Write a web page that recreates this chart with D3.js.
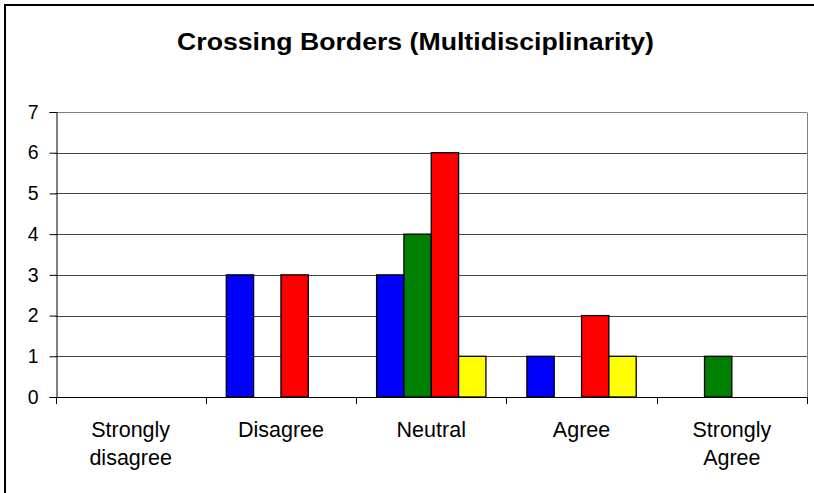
<!DOCTYPE html>
<html>
<head>
<meta charset="utf-8">
<script src="https://cdn.jsdelivr.net/npm/d3@7"></script>
<style>
  html, body { margin: 0; padding: 0; background: #fff; }
  svg { display: block; }
  text { font-family: "Liberation Sans", Arial, sans-serif; fill: #000; }
</style>
</head>
<body>
<svg id="chart" width="814" height="493"></svg>
<script>
// Survey responses per answer category, one array per group
const categories = ["Strongly disagree", "Disagree", "Neutral", "Agree", "Strongly Agree"];
const categoryLines = [["Strongly", "disagree"], ["Disagree"], ["Neutral"], ["Agree"], ["Strongly", "Agree"]];
const seriesBlue   = [0, 3, 3, 1, 0];
const seriesGreen  = [0, 0, 4, 0, 1];
const seriesRed    = [0, 3, 6, 2, 0];
const seriesYellow = [0, 0, 1, 1, 0];
const seriesColors = ["#0000ff", "#008000", "#ff0000", "#ffff00"];
const yTicks = [0, 1, 2, 3, 4, 5, 6, 7];
const titleText = "Crossing Borders (Multidisciplinarity)";

const series = [seriesBlue, seriesGreen, seriesRed, seriesYellow];
const FONT = "'Liberation Sans', Arial, sans-serif";

const svg = d3.select("#chart");

// Outer chart frame
svg.append("rect")
  .attr("x", 5).attr("y", 5)
  .attr("width", 830).attr("height", 510)
  .attr("fill", "#fff").attr("stroke", "#000").attr("stroke-width", 2);

// Title
svg.append("text")
  .attr("x", 177).attr("y", 49.5)
  .attr("font-size", 23).attr("font-weight", "bold")
  .attr("font-family", FONT)
  .attr("textLength", 477).attr("lengthAdjust", "spacingAndGlyphs")
  .text(titleText);

const plot = { left: 55.5, right: 807, top: 112, bottom: 397 };

const x = d3.scaleBand().domain(categories).range([plot.left, plot.right]).padding(0);
const y = d3.scaleLinear().domain([0, 7]).range([plot.bottom, plot.top]);

// Horizontal gridlines
svg.append("g").selectAll("line")
  .data(yTicks.filter(d => d > 0))
  .join("line")
  .attr("x1", plot.left).attr("x2", plot.right)
  .attr("y1", d => Math.round(y(d)) + 0.5).attr("y2", d => Math.round(y(d)) + 0.5)
  .attr("stroke", d => d === 7 ? "#808080" : "#444").attr("stroke-width", 1);

// Right border of plot area
svg.append("line")
  .attr("x1", plot.right + 0.5).attr("x2", plot.right + 0.5)
  .attr("y1", Math.round(plot.top) + 0.5).attr("y2", plot.bottom)
  .attr("stroke", "#808080");

// Bars: four series side by side inside each category
const bw = x.bandwidth() / 5.5;
const rows = [];
categories.forEach((c, i) => {
  series.forEach((s, j) => {
    if (s[i] > 0) rows.push({ cat: c, idx: j, value: s[i] });
  });
});
svg.append("g").selectAll("rect")
  .data(rows)
  .join("rect")
  .attr("x", d => x(d.cat) + 0.75 * bw + d.idx * bw)
  .attr("y", d => y(d.value))
  .attr("width", bw)
  .attr("height", d => y(0) - y(d.value))
  .attr("fill", d => seriesColors[d.idx])
  .attr("stroke", "#000").attr("stroke-width", 1.3);

// Y axis
const yAxis = d3.axisLeft(y).tickValues(yTicks).tickSize(7).tickPadding(11).tickFormat(d3.format("d"));
const gy = svg.append("g").attr("transform", `translate(${Math.round(plot.left) + 0.5},0)`).call(yAxis);
gy.attr("font-family", FONT);
gy.select(".domain").attr("stroke", "#000");
gy.selectAll(".tick line").attr("stroke", "#000");
gy.selectAll(".tick text").attr("font-size", 19.5).attr("fill", "#000");

// X axis line and category separators
const gx = svg.append("g");
gx.append("line")
  .attr("x1", plot.left).attr("x2", plot.right + 1)
  .attr("y1", Math.round(plot.bottom) + 0.5).attr("y2", Math.round(plot.bottom) + 0.5)
  .attr("stroke", "#000");
const bounds = categories.map(c => x(c)).concat([x.range()[1]]);
gx.selectAll("line.sep")
  .data(bounds)
  .join("line").attr("class", "sep")
  .attr("x1", d => Math.round(d) + 0.5).attr("x2", d => Math.round(d) + 0.5)
  .attr("y1", plot.bottom).attr("y2", plot.bottom + 7)
  .attr("stroke", "#000");

// Category labels
const labels = svg.append("g").selectAll("text")
  .data(categories)
  .join("text")
  .attr("text-anchor", "middle")
  .attr("font-size", 21.5)
  .attr("font-family", FONT)
  .attr("x", d => x(d) + x.bandwidth() / 2)
  .attr("y", 437);
labels.each(function(d, i) {
  const t = d3.select(this);
  categoryLines[i].forEach((ln, k) => {
    t.append("tspan")
      .attr("x", x(d) + x.bandwidth() / 2)
      .attr("y", 437 + k * 28)
      .text(ln);
  });
});
</script>
</body>
</html>
